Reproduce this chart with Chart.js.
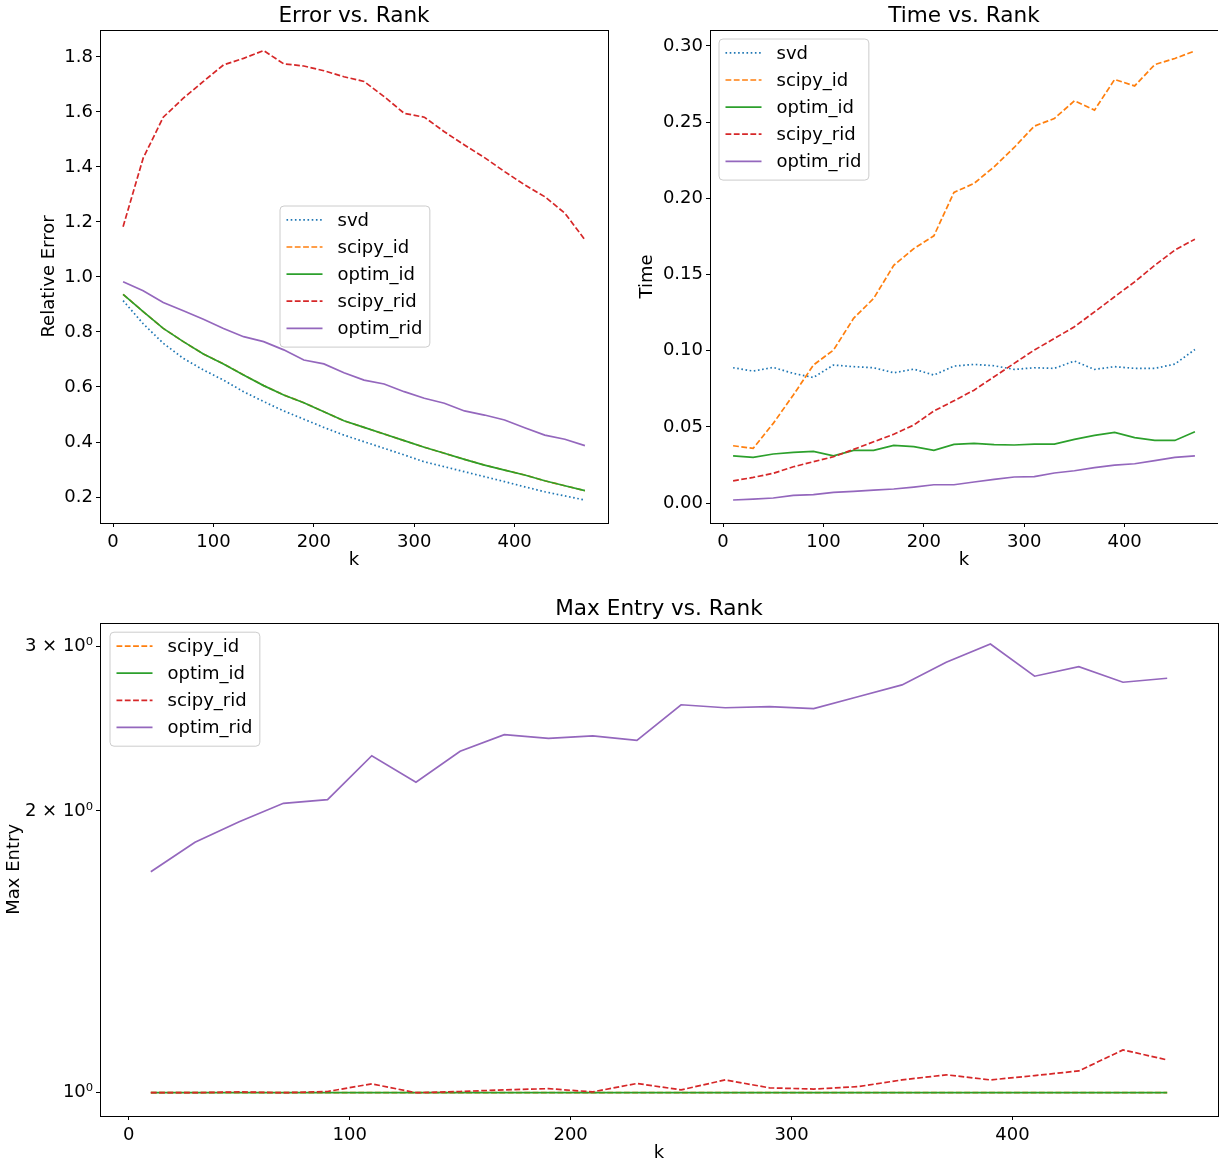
<!DOCTYPE html>
<html>
<head>
<meta charset="utf-8">
<script src="https://cdn.jsdelivr.net/npm/chart.js@4.4.0/dist/chart.umd.min.js"></script>
<style>
  html, body { margin: 0; padding: 0; background: #fff; }
  #page { position: relative; width: 1223px; height: 1170px; }
  .box { position: absolute; }
</style>
</head>
<body>
<div id="page">
  <div class="box" style="left:0;top:0;width:640px;height:580px"><canvas id="errChart"></canvas></div>
  <div class="box" style="left:610px;top:0;width:608px;height:580px"><canvas id="timeChart"></canvas></div>
  <div class="box" style="left:0;top:580px;width:1223px;height:590px"><canvas id="maxChart"></canvas></div>
</div>
<script>
// ranks k
var ranks = [10, 30, 50, 70, 90, 110, 130, 150, 170, 190, 210, 230, 250, 270, 290, 310, 330, 350, 370, 390, 410, 430, 450, 470];

// relative error
var errSvd      = [0.914, 0.830, 0.759, 0.704, 0.662, 0.625, 0.583, 0.547, 0.513, 0.483, 0.453, 0.425, 0.401, 0.377, 0.353, 0.328, 0.310, 0.292, 0.274, 0.256, 0.237, 0.219, 0.204, 0.189];
var errScipyId  = [0.937, 0.874, 0.813, 0.765, 0.720, 0.684, 0.644, 0.605, 0.571, 0.543, 0.510, 0.477, 0.453, 0.429, 0.405, 0.381, 0.359, 0.337, 0.316, 0.298, 0.280, 0.259, 0.241, 0.223];
var errOptimId  = [0.937, 0.874, 0.813, 0.765, 0.720, 0.684, 0.644, 0.605, 0.571, 0.543, 0.510, 0.477, 0.453, 0.429, 0.405, 0.381, 0.359, 0.337, 0.316, 0.298, 0.280, 0.259, 0.241, 0.223];
var errScipyRid = [1.183, 1.432, 1.581, 1.650, 1.711, 1.771, 1.795, 1.823, 1.775, 1.767, 1.750, 1.728, 1.711, 1.656, 1.595, 1.581, 1.528, 1.480, 1.434, 1.383, 1.335, 1.292, 1.232, 1.135];
var errOptimRid = [0.983, 0.950, 0.907, 0.877, 0.846, 0.813, 0.783, 0.765, 0.735, 0.698, 0.684, 0.652, 0.625, 0.611, 0.583, 0.559, 0.541, 0.513, 0.498, 0.480, 0.452, 0.425, 0.410, 0.387];

// time
var timeSvd      = [0.0888, 0.0866, 0.0890, 0.0851, 0.0824, 0.0906, 0.0895, 0.0888, 0.0855, 0.0879, 0.0840, 0.0899, 0.0910, 0.0901, 0.0877, 0.0888, 0.0884, 0.0932, 0.0877, 0.0895, 0.0884, 0.0884, 0.0912, 0.1008];
var timeScipyId  = [0.0376, 0.0359, 0.0523, 0.0709, 0.0906, 0.1004, 0.1212, 0.1343, 0.1560, 0.1670, 0.1754, 0.2039, 0.2098, 0.2207, 0.2334, 0.2474, 0.2524, 0.2640, 0.2579, 0.2780, 0.2738, 0.2878, 0.2918, 0.2968];
var timeOptimId  = [0.0310, 0.0300, 0.0322, 0.0333, 0.0339, 0.0310, 0.0346, 0.0346, 0.0379, 0.0370, 0.0346, 0.0385, 0.0392, 0.0383, 0.0381, 0.0387, 0.0387, 0.0418, 0.0444, 0.0464, 0.0429, 0.0411, 0.0411, 0.0468];
var timeScipyRid = [0.0146, 0.0168, 0.0195, 0.0238, 0.0271, 0.0304, 0.0352, 0.0402, 0.0451, 0.0512, 0.0604, 0.0671, 0.0741, 0.0829, 0.0917, 0.1004, 0.1080, 0.1157, 0.1255, 0.1354, 0.1452, 0.1560, 0.1660, 0.1732];
var timeOptimRid = [0.0020, 0.0026, 0.0033, 0.0050, 0.0055, 0.0070, 0.0077, 0.0085, 0.0092, 0.0105, 0.0120, 0.0120, 0.0138, 0.0155, 0.0171, 0.0173, 0.0197, 0.0212, 0.0232, 0.0249, 0.0258, 0.0278, 0.0300, 0.0310];

// max entry
var maxScipyId  = [1, 1, 1, 1, 1, 1, 1, 1, 1, 1, 1, 1, 1, 1, 1, 1, 1, 1, 1, 1, 1, 1, 1, 1];
var maxOptimId  = [1, 1, 1, 1, 1, 1, 1, 1, 1, 1, 1, 1, 1, 1, 1, 1, 1, 1, 1, 1, 1, 1, 1, 1];
var maxScipyRid = [1.000, 1.000, 1.002, 1.000, 1.003, 1.022, 1.000, 1.003, 1.007, 1.010, 1.002, 1.023, 1.007, 1.032, 1.012, 1.009, 1.015, 1.032, 1.045, 1.032, 1.043, 1.055, 1.111, 1.084];
var maxOptimRid = [1.722, 1.852, 1.948, 2.038, 2.056, 2.291, 2.146, 2.316, 2.413, 2.391, 2.406, 2.379, 2.597, 2.578, 2.585, 2.573, 2.649, 2.727, 2.883, 3.016, 2.786, 2.852, 2.745, 2.772];

// tick labels
var kTicks = [0, 100, 200, 300, 400];
var errTicks = [0.2, 0.4, 0.6, 0.8, 1.0, 1.2, 1.4, 1.6, 1.8];
var timeTicks = [0, 0.05, 0.1, 0.15, 0.2, 0.25, 0.3];
var maxTicks = [1, 2, 3];
var maxTickLabels = ['10⁰', '2 × 10⁰', '3 × 10⁰'];

var DOTTED = [1.6, 2.6];
var DASHED = [5.8, 2.5];

Chart.defaults.font.family = "'DejaVu Sans', sans-serif";
Chart.defaults.font.size = 18;
Chart.defaults.color = '#000';

function series(label, values, color, dash, order) {
    return {
        label: label,
        order: order,
        data: ranks.map((k, i) => ({ x: k, y: values[i] })),
        borderColor: color,
        backgroundColor: color,
        borderDash: dash,
        borderWidth: 1.7,
        pointRadius: 0,
        tension: 0,
        fill: false
    };
}

function fixedTicks(values) {
    return function (axis) { axis.ticks = values.map(v => ({ value: v })); };
}

// box round the plot area, like matplotlib spines
var frame = {
    id: 'frame',
    afterDatasetsDraw(chart) {
        var ctx = chart.ctx, a = chart.chartArea;
        var l = Math.round(a.left) + 0.5, t = Math.round(a.top) + 0.5;
        var r = Math.round(a.right) + 0.5, b = Math.round(a.bottom) + 0.5;
        ctx.save();
        ctx.strokeStyle = '#000';
        ctx.lineWidth = 1;
        ctx.setLineDash([]);
        ctx.strokeRect(l, t, r - l, b - t);
        ctx.restore();
    }
};

// legend drawn inside the plot area
var insideLegend = {
    id: 'insideLegend',
    afterDraw(chart, args, opts) {
        var ctx = chart.ctx, a = chart.chartArea;
        var sets = chart.data.datasets;
        ctx.save();
        ctx.font = "18px 'DejaVu Sans', sans-serif";
        var textW = Math.max.apply(null, sets.map(d => ctx.measureText(d.label).width));
        var w = 7 + 36 + 15 + textW + 7;
        var h = 14.4 + (sets.length - 1) * 27.1 + 18.3;
        var x = a.left + opts.x, y = a.top + opts.y;
        ctx.beginPath();
        ctx.roundRect(x + 0.5, y + 0.5, w, h, 4);
        ctx.fillStyle = 'rgba(255,255,255,0.8)';
        ctx.fill();
        ctx.strokeStyle = '#cccccc';
        ctx.lineWidth = 1;
        ctx.stroke();
        sets.forEach(function (d, i) {
            var yy = y + 14.4 + i * 27.1;
            ctx.beginPath();
            ctx.setLineDash(d.borderDash || []);
            ctx.strokeStyle = d.borderColor;
            ctx.lineWidth = d.borderWidth;
            ctx.moveTo(x + 7, yy);
            ctx.lineTo(x + 43, yy);
            ctx.stroke();
            ctx.setLineDash([]);
            ctx.fillStyle = '#000';
            ctx.textBaseline = 'middle';
            ctx.textAlign = 'left';
            ctx.fillText(d.label, x + 58, yy + 1);
        });
        ctx.restore();
    }
};

function xAxis(height, titleBottom) {
    return {
        type: 'linear',
        min: -13,
        max: 493,
        afterBuildTicks: fixedTicks(kTicks),
        afterFit: s => { s.height = height; },
        ticks: { padding: 5, maxRotation: 0, autoSkip: false, callback: v => String(v) },
        grid: { drawOnChartArea: false, tickLength: 4, color: '#000' },
        border: { display: false },
        title: { display: true, text: 'k', font: { size: 18 }, padding: { top: 0, bottom: titleBottom } }
    };
}

function baseOptions(title, titlePad, legendPos, padding, scales) {
    return {
        responsive: true,
        maintainAspectRatio: false,
        animation: false,
        layout: { padding: padding },
        scales: scales,
        plugins: {
            legend: { display: false },
            tooltip: { enabled: false },
            title: {
                display: true,
                text: title,
                fullSize: false,
                color: '#000',
                font: { size: 21.6, weight: 'normal' },
                padding: titlePad
            },
            insideLegend: legendPos
        }
    };
}

new Chart(document.getElementById('errChart'), {
    type: 'line',
    data: {
        datasets: [
            series('svd', errSvd, '#1f77b4', DOTTED, 5),
            series('scipy_id', errScipyId, '#ff7f0e', DASHED, 4),
            series('optim_id', errOptimId, '#2ca02c', [], 3),
            series('scipy_rid', errScipyRid, '#d62728', DASHED, 2),
            series('optim_rid', errOptimRid, '#9467bd', [], 1)
        ]
    },
    options: baseOptions('Error vs. Rank', { top: 3, bottom: 1.08 }, { x: 179.5, y: 175.5 },
        { left: 0, right: 32, top: 0, bottom: 0 }, {
        x: xAxis(57, 8.5),
        y: {
            min: 0.1055,
            max: 1.898,
            afterBuildTicks: fixedTicks(errTicks),
            afterFit: s => { s.width = 100; },
            ticks: { padding: 3, callback: v => v.toFixed(1) },
            grid: { drawOnChartArea: false, tickLength: 4, color: '#000' },
            border: { display: false },
            title: { display: true, text: 'Relative Error', font: { size: 18 }, padding: { top: 39, bottom: 0 } }
        }
    }),
    plugins: [frame, insideLegend]
});

new Chart(document.getElementById('timeChart'), {
    type: 'line',
    data: {
        datasets: [
            series('svd', timeSvd, '#1f77b4', DOTTED, 5),
            series('scipy_id', timeScipyId, '#ff7f0e', DASHED, 4),
            series('optim_id', timeOptimId, '#2ca02c', [], 3),
            series('scipy_rid', timeScipyRid, '#d62728', DASHED, 2),
            series('optim_rid', timeOptimRid, '#9467bd', [], 1)
        ]
    },
    options: baseOptions('Time vs. Rank', { top: 3, bottom: 1.08 }, { x: 8.5, y: 8.5 },
        { left: 0, right: 0, top: 0, bottom: 0 }, {
        x: xAxis(57, 8.5),
        y: {
            min: -0.0131,
            max: 0.3105,
            afterBuildTicks: fixedTicks(timeTicks),
            afterFit: s => { s.width = 100; },
            ticks: { padding: 3, callback: v => v.toFixed(2) },
            grid: { drawOnChartArea: false, tickLength: 4, color: '#000' },
            border: { display: false },
            title: { display: true, text: 'Time', font: { size: 18 }, padding: { top: 26.2, bottom: 0 } }
        }
    }),
    plugins: [frame, insideLegend]
});

new Chart(document.getElementById('maxChart'), {
    type: 'line',
    data: {
        datasets: [
            series('scipy_id', maxScipyId, '#ff7f0e', DASHED, 4),
            series('optim_id', maxOptimId, '#2ca02c', [], 3),
            series('scipy_rid', maxScipyRid, '#d62728', DASHED, 2),
            series('optim_rid', maxOptimRid, '#9467bd', [], 1)
        ]
    },
    options: baseOptions('Max Entry vs. Rank', { top: 16, bottom: 0.78 }, { x: 9.5, y: 9 },
        { left: 0, right: 5, top: 0, bottom: 0 }, {
        x: xAxis(54, 5.5),
        y: {
            type: 'logarithmic',
            min: 0.9443,
            max: 3.178,
            afterBuildTicks: fixedTicks(maxTicks),
            afterFit: s => { s.width = 100; },
            ticks: { padding: 3, callback: v => maxTickLabels[maxTicks.indexOf(v)] },
            grid: { drawOnChartArea: false, tickLength: 4, color: '#000' },
            border: { display: false },
            title: { display: true, text: 'Max Entry', font: { size: 18 }, padding: { top: 3.2, bottom: 0 } }
        }
    }),
    plugins: [frame, insideLegend]
});
</script>
</body>
</html>
